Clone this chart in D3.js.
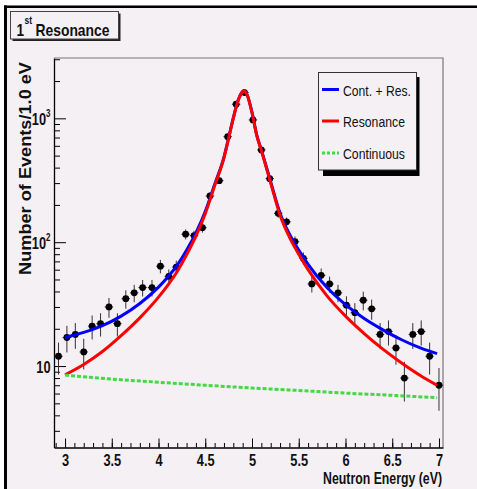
<!DOCTYPE html>
<html>
<head>
<meta charset="utf-8">
<script src="https://cdn.jsdelivr.net/npm/d3@7"></script>
<style>
body { margin: 0; background: #fff; }
svg { display: block; font-family: "Liberation Sans", Arial, sans-serif; }
</style>
</head>
<body>
<script>

// measured data points (bin centre in eV, events)
const energy = [2.93, 3.02, 3.11, 3.20, 3.29, 3.38, 3.47, 3.56, 3.65, 3.74, 3.83, 3.93, 4.02, 4.11, 4.19,
    4.29, 4.38, 4.47, 4.55, 4.65, 4.74, 4.83, 4.92, 5.01, 5.10, 5.19, 5.28, 5.37, 5.46, 5.55,
    5.64, 5.74, 5.83, 5.92, 6.01, 6.10, 6.19, 6.28, 6.37, 6.46, 6.54, 6.63, 6.72, 6.81, 6.90, 7.00];
const counts = [12, 17, 18, 13, 21, 22, 30, 22, 35, 39, 43, 43, 64, 53, 63,
    116, 113, 131, 236, 314, 711, 1300, 1614, 971, 556, 326, 171, 146, 101, 74,
    46, 54, 46, 39, 31, 27, 34, 29, 18, 19, 14, 8, 18, 19, 12, 7];

// fit curves
const curveE = [3.0, 3.2, 3.4, 3.6, 3.8, 4.0, 4.1, 4.2, 4.3, 4.4, 4.5, 4.6, 4.7, 4.75, 4.8, 4.85, 4.9,
    4.92, 4.95, 5.0, 5.05, 5.1, 5.2, 5.3, 5.4, 5.5, 5.6, 5.8, 6.0, 6.2, 6.4, 6.6, 6.8, 6.98];
const resonance = [8.5, 10.3, 13.1, 17.6, 24.5, 36, 45, 58, 79, 112, 170, 285, 480, 690, 1000, 1380, 1640,
    1660, 1530, 1110, 730, 550, 300, 165, 110, 80, 60, 37, 25.3, 18.3, 13.7, 10.6, 8.4, 7.0];
const total = [17.0, 18.7, 21.2, 25.3, 32, 43.4, 52.3, 65.2, 86, 119, 177, 292, 487, 697, 1007, 1387, 1647,
    1667, 1537, 1117, 737, 557, 307, 171.5, 116.5, 86.3, 66.3, 43.2, 31.3, 24.2, 19.6, 16.3, 14.0, 12.6];
const contE = [3.0, 3.5, 4.0, 4.5, 5.0, 5.5, 6.0, 6.5, 6.98];
const continuous = [8.45, 7.85, 7.4, 7.0, 6.65, 6.35, 6.05, 5.8, 5.55];

const xTicks = [3, 3.5, 4, 4.5, 5, 5.5, 6, 6.5, 7];
const yTicks = [10, 100, 1000];
const yTickBase = ["10", "10", "10"];
const yTickExp = ["", "2", "3"];
const yMinor = [3, 4, 5, 6, 7, 8, 9, 20, 30, 40, 50, 60, 70, 80, 90, 200, 300, 400, 500, 600, 700, 800, 900, 2000, 3000];

const legendNames = ["Cont. + Res.", "Resonance", "Continuous"];
const legendColors = ["#0000ff", "#ff0000", "#44d844"];

const bg = "#f4f0f4";
const padL = 54, padR = 443, padT = 58, padB = 447.5;

const svg = d3.select("body").append("svg")
    .attr("width", 477)
    .attr("height", 489);

// canvas with dark top/left border
svg.append("rect").attr("x", 4).attr("y", 5).attr("width", 473).attr("height", 484).attr("fill", bg);
svg.append("rect").attr("x", 4).attr("y", 5.5).attr("width", 473).attr("height", 2.5).attr("fill", "#000");
svg.append("rect").attr("x", 4).attr("y", 5.5).attr("width", 3).attr("height", 484).attr("fill", "#000");

const x = d3.scaleLinear().domain([2.882, 7.043]).range([padL, padR]);
const y = d3.scaleLog().domain([2.2, 3070]).range([padB, padT]);

// squeeze a text to the given width (the original font is narrow)
function squeeze(sel, px, py, width, rot) {
    const w = sel.node().getComputedTextLength();
    sel.attr("transform", `translate(${px},${py})` + (rot ? ` rotate(${rot})` : "") + ` scale(${width / w},1)`);
}

// frame top / right
svg.append("path")
    .attr("d", `M${padL},${padT}H${padR}V${padB}`)
    .attr("fill", "none")
    .attr("stroke", "#777")
    .attr("stroke-width", 1.2);

// x axis
const gx = svg.append("g").attr("transform", `translate(0,${padB})`);
gx.call(d3.axisBottom(x).tickValues(d3.range(29, 71).map(d => d / 10)).tickSize(-4.5).tickSizeOuter(0).tickFormat(""));
const gx2 = svg.append("g").attr("transform", `translate(0,${padB})`)
    .call(d3.axisBottom(x).tickValues(xTicks).tickSize(-9).tickSizeOuter(0).tickFormat(d3.format("")));
gx2.select(".domain").remove();
gx2.selectAll("text")
    .attr("y", 18.5).attr("dy", null)
    .attr("font-size", 16).attr("font-weight", "bold")
    .attr("font-family", "Liberation Sans, Arial, sans-serif")
    .attr("fill", "#111")
    .attr("transform", "scale(0.8,1)");
gx.select(".domain").attr("stroke-width", 1.3);

// y axis
const gy = svg.append("g").attr("transform", `translate(${padL},0)`);
gy.call(d3.axisLeft(y).tickValues(yMinor).tickSize(-6).tickSizeOuter(0).tickFormat(""));
gy.select(".domain").attr("stroke-width", 1.3);
const gy2 = svg.append("g").attr("transform", `translate(${padL},0)`)
    .call(d3.axisLeft(y).tickValues(yTicks).tickSize(-12).tickSizeOuter(0).tickFormat(""));
gy2.select(".domain").remove();

yTicks.forEach((v, i) => {
    const t = svg.append("text")
        .attr("text-anchor", "end")
        .attr("font-size", 16)
        .attr("font-weight", "bold")
        .attr("fill", "#111")
        .attr("transform", `translate(50.5,${y(v) + 6.5}) scale(0.8,1)`);
    t.append("tspan").text(yTickBase[i]);
    if (yTickExp[i]) {
        t.append("tspan").attr("font-size", 10).attr("dy", -8).text(yTickExp[i]);
    }
});

// axis titles
const xt = svg.append("text")
    .attr("text-anchor", "end")
    .attr("font-size", 16)
    .attr("font-weight", "bold")
    .attr("fill", "#111")
    .text("Neutron Energy (eV)");
squeeze(xt, 442, 484, 119);

const yt = svg.append("text")
    .attr("text-anchor", "end")
    .attr("font-size", 16)
    .attr("font-weight", "bold")
    .attr("fill", "#111")
    .text("Number of Events/1.0 eV");
squeeze(yt, 31, 62, 213, -90);

// data points with errors
const pts = svg.append("g");
energy.forEach((e, i) => {
    const c = counts[i], s = Math.sqrt(c);
    pts.append("line")
        .attr("x1", x(e)).attr("x2", x(e))
        .attr("y1", y(Math.max(c - s, 2.2))).attr("y2", y(c + s))
        .attr("stroke", "#333").attr("stroke-width", 1);
    pts.append("line")
        .attr("x1", x(e - 0.045)).attr("x2", x(e + 0.045))
        .attr("y1", y(c)).attr("y2", y(c))
        .attr("stroke", "#333").attr("stroke-width", 1);
});
pts.selectAll("circle")
    .data(energy)
    .enter()
    .append("circle")
        .attr("cx", d => x(d))
        .attr("cy", (d, i) => y(counts[i]))
        .attr("r", 3.4)
        .attr("fill", "#000");

// curves
const line = d3.line()
    .x(d => x(d[0]))
    .y(d => y(d[1]))
    .curve(d3.curveMonotoneX);

svg.append("path")
    .attr("d", line(curveE.map((e, i) => [e, total[i]])))
    .attr("fill", "none").attr("stroke", legendColors[0]).attr("stroke-width", 3);
svg.append("path")
    .attr("d", line(curveE.map((e, i) => [e, resonance[i]])))
    .attr("fill", "none").attr("stroke", legendColors[1]).attr("stroke-width", 3);
svg.append("path")
    .attr("d", line(contE.map((e, i) => [e, continuous[i]])))
    .attr("fill", "none").attr("stroke", legendColors[2]).attr("stroke-width", 3)
    .attr("stroke-dasharray", "4,2");

// legend
svg.append("rect").attr("x", 323).attr("y", 77).attr("width", 96.5).attr("height", 99).attr("fill", "#000");
svg.append("rect").attr("x", 318.5).attr("y", 72.5).attr("width", 98).attr("height", 97.5)
    .attr("fill", bg).attr("stroke", "#333").attr("stroke-width", 1);
const legendY = [89.5, 121, 153];
const legendW = [68, 62, 62];
legendNames.forEach((name, i) => {
    svg.append("line")
        .attr("x1", 322).attr("x2", 339)
        .attr("y1", legendY[i]).attr("y2", legendY[i])
        .attr("stroke", legendColors[i]).attr("stroke-width", 3)
        .attr("stroke-dasharray", i === 2 ? "3,2" : null);
    const t = svg.append("text")
        .attr("font-size", 15.5)
        .attr("fill", "#111")
        .text(name);
    squeeze(t, 343, legendY[i] + 6, legendW[i]);
});

// title box
svg.append("rect").attr("x", 12.5).attr("y", 13.5).attr("width", 108).attr("height", 27.5).attr("fill", "#222");
svg.append("rect").attr("x", 10.5).attr("y", 11.5).attr("width", 108).attr("height", 27.5)
    .attr("fill", bg).attr("stroke", "#444").attr("stroke-width", 1);
svg.append("text").attr("font-size", 16).attr("font-weight", "bold").attr("fill", "#111")
    .attr("transform", "translate(16.5,35.5) scale(0.85,1)").text("1");
svg.append("text").attr("font-size", 10).attr("font-weight", "bold").attr("fill", "#111")
    .attr("transform", "translate(24.5,23.5) scale(0.85,1)").text("st");
const tt = svg.append("text").attr("font-size", 16).attr("font-weight", "bold").attr("fill", "#111").text("Resonance");
squeeze(tt, 35.5, 35.5, 74);

</script>
</body>
</html>
